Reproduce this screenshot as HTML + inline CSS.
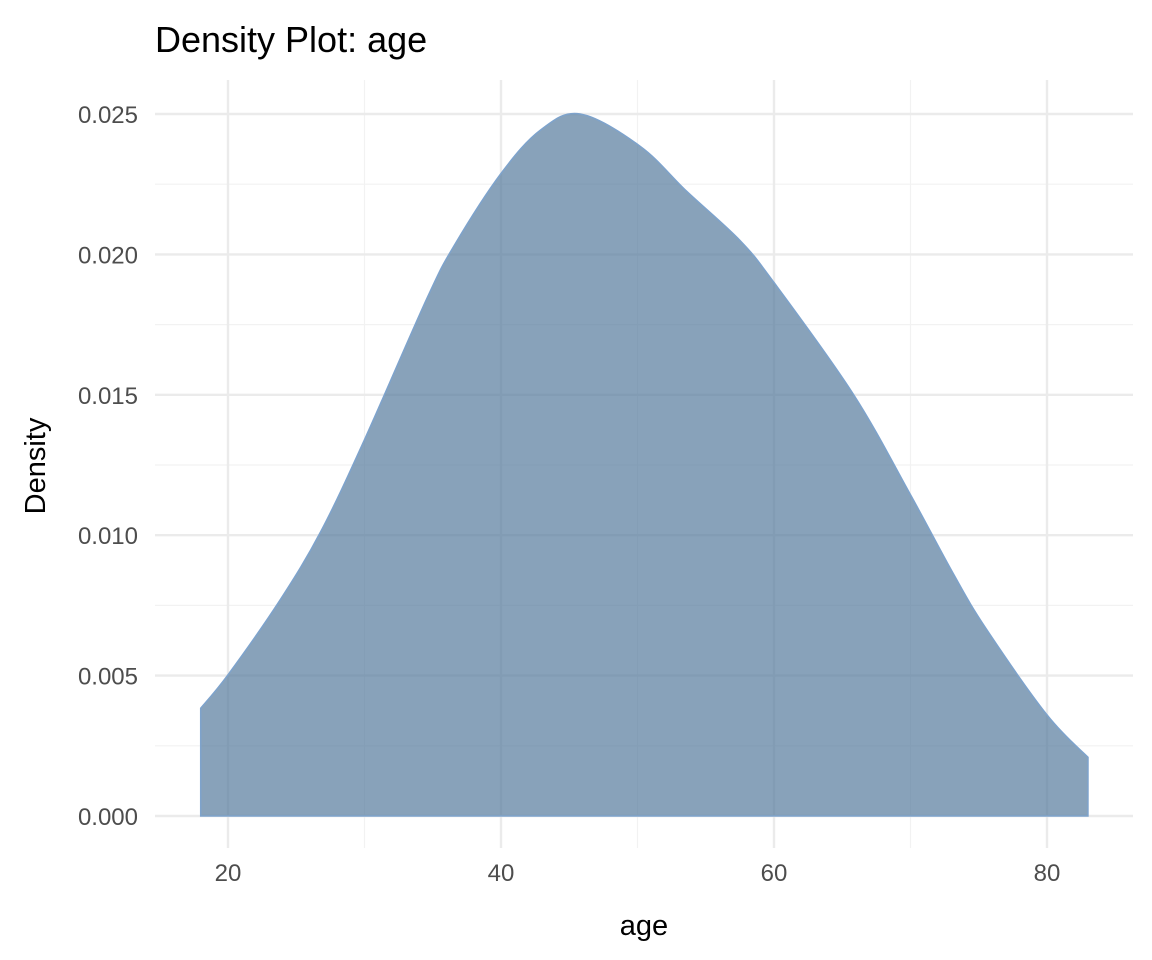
<!DOCTYPE html>
<html><head><meta charset="utf-8"><style>
body{margin:0;background:#fff}
svg{display:block;font-family:"Liberation Sans",Arial,sans-serif}
</style></head><body>
<svg id="chart" width="1152" height="960" viewBox="0 0 1152 960">
<text x="155" y="52" font-size="36" fill="#000">Density Plot: age</text>
<g id="grid"></g>
<g id="area"></g>
<g id="xticks"></g>
<g id="yticks"></g>
<text x="644" y="935" font-size="29" text-anchor="middle" fill="#000">age</text>
<text transform="translate(45,466) rotate(-90)" font-size="29" text-anchor="middle" fill="#000">Density</text>
</svg>
<script>
const ages=[18,20,23.8,26.8,30,34.6,36.6,40,42.9,45.8,50.2,53.6,57.5,60,65.8,70,73.1,75.5,80,83];
const dens=[0.00384,0.00503,0.00768,0.01013,0.0134,0.01846,0.02034,0.02288,0.02443,0.0250,0.02385,0.02225,0.0205,0.01900,0.01503,0.01144,0.00866,0.0067,0.0036,0.00209];
const xTicks=[20,40,60,80];
const xMinor=[30,50,70];
const yTicks=[0,0.005,0.010,0.015,0.020,0.025];
const yLabels=["0.000","0.005","0.010","0.015","0.020","0.025"];
const yMinor=[0.0025,0.0075,0.0125,0.0175,0.0225];
const NS="http://www.w3.org/2000/svg";
const X=a=>228+(a-20)*(1047-228)/60;
const Y=d=>816-d*(816-114)/0.025;
const L=155,R=1133,T=80,B=848;
function mk(t,at,p){const e=document.createElementNS(NS,t);for(const k in at)e.setAttribute(k,at[k]);p.appendChild(e);return e;}
const g=document.getElementById('grid');
yMinor.forEach(v=>{const l=mk('line',{x1:L,x2:R,y1:Y(v),y2:Y(v),stroke:'#f2f2f2','stroke-width':1.2},g);

});
xMinor.forEach(v=>{const l=mk('line',{x1:X(v),x2:X(v),y1:T,y2:B,stroke:'#f2f2f2','stroke-width':1.2},g);

});
yTicks.forEach(v=>{const l=mk('line',{x1:L,x2:R,y1:Y(v),y2:Y(v),stroke:'#ebebeb','stroke-width':2.4},g);

});
xTicks.forEach(v=>{const l=mk('line',{x1:X(v),x2:X(v),y1:T,y2:B,stroke:'#ebebeb','stroke-width':2.4},g);

});
const a=document.getElementById('area');
const P=ages.map((v,i)=>[X(v),Y(dens[i])]);
let d='M'+P[0][0]+','+Y(0)+' L'+P[0][0]+','+P[0][1];
for(let i=0;i<P.length-1;i++){
  const p0=P[Math.max(0,i-1)],p1=P[i],p2=P[i+1],p3=P[Math.min(P.length-1,i+2)];
  const c1=[p1[0]+(p2[0]-p0[0])/6,p1[1]+(p2[1]-p0[1])/6];
  const c2=[p2[0]-(p3[0]-p1[0])/6,p2[1]-(p3[1]-p1[1])/6];
  d+=' C'+c1[0].toFixed(1)+','+c1[1].toFixed(1)+' '+c2[0].toFixed(1)+','+c2[1].toFixed(1)+' '+p2[0].toFixed(1)+','+p2[1].toFixed(1);
}
d+=' L'+P[P.length-1][0]+','+Y(0)+' Z';
const p=mk('path',{d:d,fill:'#4f7699','fill-opacity':0.68,stroke:'#7ea3cc','stroke-width':1.5},a);


const xt=document.getElementById('xticks');
xTicks.forEach(v=>{const t=mk('text',{x:X(v),y:881,'font-size':24,'text-anchor':'middle',fill:'#4d4d4d'},xt);t.textContent=v;

});
const yt=document.getElementById('yticks');
yTicks.forEach((v,i)=>{const t=mk('text',{x:138,y:Y(v)+9,'font-size':24,'text-anchor':'end',fill:'#4d4d4d'},yt);t.textContent=yLabels[i];

});
</script>
</body></html>
